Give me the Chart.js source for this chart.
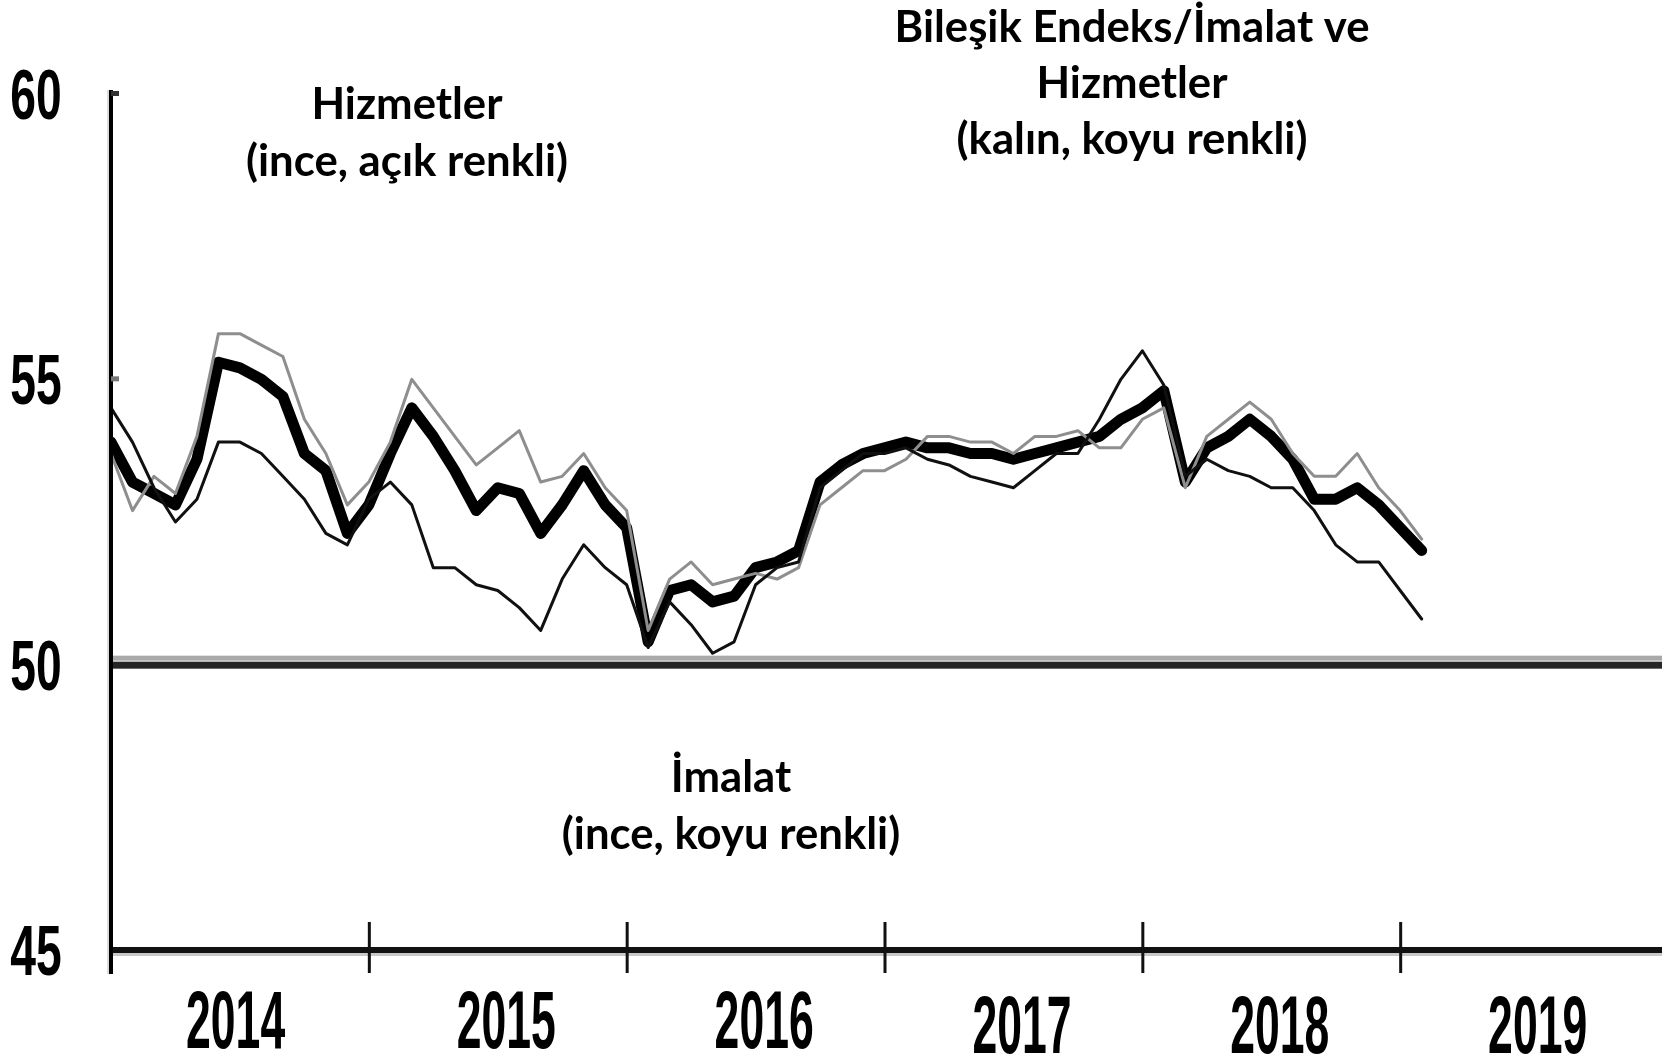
<!DOCTYPE html>
<html lang="tr">
<head>
<meta charset="utf-8">
<title>PMI</title>
<script src="https://cdn.jsdelivr.net/npm/chart.js@4.4.1/dist/chart.umd.min.js"></script>
<style>
  html, body { margin: 0; padding: 0; background: #fff; }
  #wrap { width: 1668px; height: 1056px; }
</style>
</head>
<body>
<div id="wrap"><canvas id="pmi" width="1668" height="1056"></canvas></div>
<script>
// monthly values, Jan 2014 onwards
const composite = [
  53.9, 53.2, 53.0, 52.8, 53.6, 55.3, 55.2, 55.0, 54.7, 53.7, 53.4, 52.3,
  52.8, 53.7, 54.5, 54.0, 53.4, 52.7, 53.1, 53.0, 52.3, 52.8, 53.4, 52.8,
  52.4, 50.4, 51.3, 51.4, 51.1, 51.2, 51.7, 51.8, 52.0, 53.2, 53.5, 53.7,
  53.8, 53.9, 53.8, 53.8, 53.7, 53.7, 53.6, 53.7, 53.8, 53.9, 54.0, 54.3,
  54.5, 54.8, 53.2, 53.8, 54.0, 54.3, 54.0, 53.6, 52.9, 52.9, 53.1, 52.8,
  52.4, 52.0
];
const services = [
  53.7, 52.7, 53.3, 53.0, 54.0, 55.8, 55.8, 55.6, 55.4, 54.3, 53.7, 52.8,
  53.2, 53.9, 55.0, 54.5, 54.0, 53.5, 53.8, 54.1, 53.2, 53.3, 53.7, 53.1,
  52.7, 50.6, 51.5, 51.8, 51.4, 51.5, 51.6, 51.5, 51.7, 52.8, 53.1, 53.4,
  53.4, 53.6, 54.0, 54.0, 53.9, 53.9, 53.7, 54.0, 54.0, 54.1, 53.8, 53.8,
  54.3, 54.5, 53.1, 54.0, 54.3, 54.6, 54.3, 53.7, 53.3, 53.3, 53.7, 53.1,
  52.7, 52.2
];
const manufacturing = [
  54.5, 53.9, 53.1, 52.5, 52.9, 53.9, 53.9, 53.7, 53.3, 52.9, 52.3, 52.1,
  52.9, 53.2, 52.8, 51.7, 51.7, 51.4, 51.3, 51.0, 50.6, 51.5, 52.1, 51.7,
  51.4, 50.3, 51.1, 50.7, 50.2, 50.4, 51.4, 51.7, 51.8, 53.1, 53.4, 53.7,
  53.7, 53.8, 53.6, 53.5, 53.3, 53.2, 53.1, 53.4, 53.7, 53.7, 54.3, 55.0,
  55.5, 54.9, 53.3, 53.6, 53.4, 53.3, 53.1, 53.1, 52.7, 52.1, 51.8, 51.8,
  51.3, 50.8
];
const years = ['2014', '2015', '2016', '2017', '2018', '2019'];
const yTicks = [45, 50, 55, 60];

const toPoints = arr => arr.map((v, i) => ({ x: i, y: v }));

// axes, 50 line, labels and notes
const decor = {
  id: 'decor',
  beforeDatasetsDraw(chart) {
    const { ctx, scales: { x, y } } = chart;
    const y50 = y.getPixelForValue(50);
    ctx.save();
    ctx.fillStyle = '#a9a9a9';
    ctx.fillRect(x.left, y50 - 9, x.right - x.left + 4, 5);
    ctx.fillStyle = '#262626';
    ctx.fillRect(x.left, y50 - 3, x.right - x.left + 4, 7);
    ctx.restore();
  },
  afterDraw(chart) {
    const { ctx, scales: { x, y } } = chart;
    const yBottom = y.getPixelForValue(45);
    const yTop = y.getPixelForValue(60);
    ctx.save();
    // x axis with shadow
    ctx.fillStyle = '#c8c8c8';
    ctx.fillRect(x.left, yBottom + 2, x.right - x.left + 4, 4);
    ctx.fillStyle = '#111';
    ctx.fillRect(x.left, yBottom - 3, x.right - x.left + 4, 6);
    // year ticks
    for (let m = 0; m <= 60; m += 12) {
      const px = x.getPixelForValue(m);
      ctx.fillRect(px - 1, yBottom - 28, 3, 51);
    }
    // y axis
    ctx.fillStyle = '#dcdcdc';
    ctx.fillRect(x.left - 4, yTop - 4, 2, yBottom - yTop + 28);
    ctx.fillStyle = '#000';
    ctx.fillRect(x.left - 2, yTop - 4, 4, yBottom - yTop + 28);
    ctx.fillStyle = '#333';
    ctx.fillRect(x.left, yTop - 3, 8, 5);
    ctx.fillStyle = '#777';
    ctx.fillRect(x.left, y.getPixelForValue(55) - 3, 8, 5);

    // squeezed tick labels
    ctx.fillStyle = '#000';
    ctx.textAlign = 'center';
    ctx.textBaseline = 'alphabetic';
    const squeeze = (text, px, py, font, sx) => {
      ctx.save();
      ctx.translate(px, py);
      ctx.scale(sx, 1);
      ctx.font = font;
      ctx.fillText(text, 0, 0);
      ctx.restore();
    };
    yTicks.forEach(v => {
      squeeze(String(v), 36, y.getPixelForValue(v) + 25, 'bold 70px "Liberation Sans"', 0.66);
    });
    years.forEach((label, i) => {
      const mid = i === 0 ? 5.8 : i * 12 + 6.4;
      squeeze(label, x.getPixelForValue(mid), 1048 + (i > 2 ? 5 : 0), 'bold 81px "Liberation Sans"', 0.55);
    });

    // notes
    const noteFont = 'bold 44px Lato';
    ctx.font = noteFont;
    const sx = 191 / ctx.measureText('Hizmetler').width;
    const notes = [
      ['Hizmetler', 407, 119],
      ['(ince, açık renkli)', 407, 176],
      ['Bileşik Endeks/İmalat ve', 1132, 42],
      ['Hizmetler', 1132, 98],
      ['(kalın, koyu renkli)', 1132, 154],
      ['İmalat', 731, 792],
      ['(ince, koyu renkli)', 731, 849]
    ];
    notes.forEach(([t, px, py]) => squeeze(t, px, py, noteFont, sx));
    ctx.restore();
  }
};

new Chart(document.getElementById('pmi'), {
  type: 'line',
  data: {
    datasets: [
      {
        label: 'İmalat',
        data: toPoints(manufacturing),
        borderColor: '#101010',
        borderWidth: 3
      },
      {
        label: 'Hizmetler',
        data: toPoints(services),
        borderColor: '#8e8e8e',
        borderWidth: 3
      },
      {
        label: 'Bileşik Endeks',
        data: toPoints(composite),
        borderColor: '#000',
        borderWidth: 11
      }
    ]
  },
  options: {
    responsive: false,
    animation: false,
    devicePixelRatio: 1,
    layout: { padding: { left: 111, right: 10, top: 94, bottom: 106 } },
    elements: {
      line: { tension: 0, borderJoinStyle: 'round', borderCapStyle: 'round' },
      point: { radius: 0 }
    },
    scales: {
      x: { type: 'linear', min: 0, max: 72, display: false },
      y: { min: 45, max: 60, display: false }
    },
    plugins: {
      legend: { display: false },
      tooltip: { enabled: false }
    }
  },
  plugins: [decor]
});
</script>
</body>
</html>
